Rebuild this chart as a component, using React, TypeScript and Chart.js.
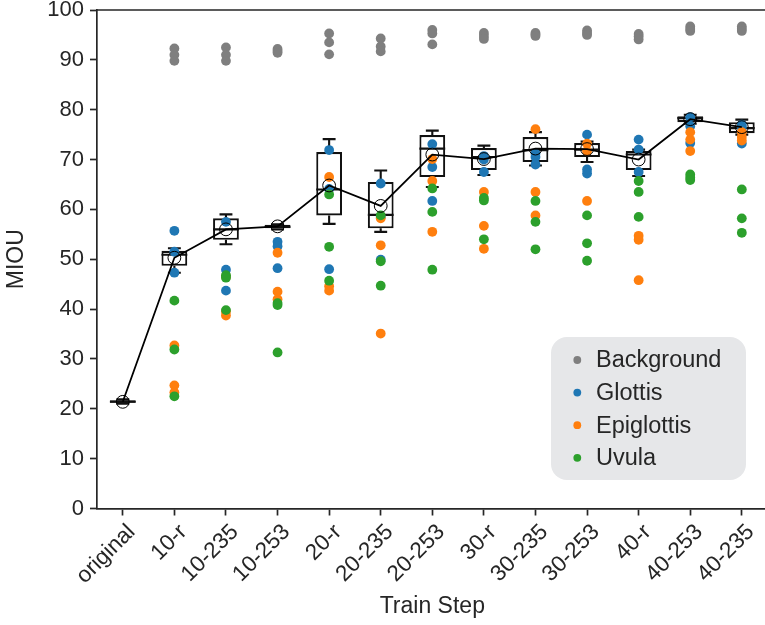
import React, { useEffect, useRef } from 'react';
import { Chart, registerables } from 'chart.js';

Chart.register(...registerables);

const categories = ['original', '10-r', '10-235', '10-253', '20-r', '20-235', '20-253', '30-r', '30-235', '30-253', '40-r', '40-253', '40-235'];

const backgroundPts = [
  [], [92.3, 91.0, 89.8], [92.5, 91.0, 89.8], [92.2, 91.8, 91.4], [95.3, 93.5, 91.1], [94.3, 92.7, 91.7],
  [96.0, 95.3, 93.1], [95.4, 94.8, 94.2], [95.4, 95.1, 94.8], [95.9, 95.4, 95.0], [95.2, 94.7, 94.1],
  [96.7, 96.2, 95.8], [96.7, 96.2, 95.8],
];
const glottisPts = [
  [], [55.7, 51.5, 47.3], [57.5, 47.9, 43.7], [53.5, 52.6, 48.2], [71.9, 64.1, 48.0], [65.2, 58.5, 49.9],
  [73.1, 68.5, 61.7], [70.7, 70.0, 67.5], [71.2, 70.5, 69.0], [75.0, 68.0, 67.2], [74.0, 72.0, 67.5],
  [78.5, 76.7, 73.3], [77.0, 76.5, 73.2],
];
const epiglottisPts = [
  [], [32.7, 24.7, 23.3], [46.5, 39.5, 38.7], [51.3, 43.5, 42.0], [66.5, 44.6, 43.7], [58.2, 52.8, 35.1],
  [70.1, 65.7, 55.5], [63.5, 56.7, 52.1], [76.1, 63.5, 58.8], [73.2, 71.7, 61.7], [54.7, 53.9, 45.8],
  [75.5, 74.0, 71.7], [75.5, 74.5, 73.8],
];
const uvulaPts = [
  [], [41.7, 31.9, 22.5], [46.8, 46.3, 39.8], [41.2, 40.8, 31.3], [63.0, 52.5, 45.7], [58.8, 49.6, 44.7],
  [64.2, 59.5, 47.9], [62.3, 61.8, 54.0], [61.7, 57.5, 52.0], [58.8, 53.2, 49.7], [65.7, 63.5, 58.5],
  [67.0, 66.4, 65.9], [64.0, 58.2, 55.3],
];

const boxMin = [21.0, 47.3, 53.0, 56.0, 57.1, 55.5, 64.5, 66.9, 68.8, 69.5, 66.7, 77.2, 75.0];
const boxQ1 = [21.2, 48.7, 53.9, 56.2, 58.8, 56.2, 66.5, 67.9, 69.5, 70.5, 67.9, 77.5, 75.3];
const boxMedian = [21.4, 50.9, 56.0, 56.5, 64.0, 58.9, 72.2, 70.5, 71.9, 72.0, 71.0, 78.3, 76.3];
const boxQ3 = [21.7, 51.7, 58.2, 56.9, 71.5, 65.5, 74.9, 72.3, 74.5, 73.3, 71.7, 78.7, 77.5];
const boxMax = [21.9, 52.2, 59.0, 57.0, 74.1, 67.8, 75.8, 72.8, 75.5, 73.6, 72.0, 79.0, 78.0];
const meanValues = [21.4, 50.3, 56.0, 56.6, 64.8, 60.7, 71.0, 70.1, 72.2, 72.1, 70.0, 78.1, 76.5];

const yTickValues = [0, 10, 20, 30, 40, 50, 60, 70, 80, 90, 100];

const classNames = ['Background', 'Glottis', 'Epiglottis', 'Uvula'];
const classColors = ['#7f7f7f', '#1f77b4', '#ff7f0e', '#2ca02c'];
const classPoints = [backgroundPts, glottisPts, epiglottisPts, uvulaPts];

const FONT = '"Liberation Sans", Arial, sans-serif';
const TEXT = '#262626';
const AXIS = '#262626';
const TICK_FONT = 22;
const XTICK_FONT = 22.5;

const boxPlugin = {
  id: 'boxWhiskers',
  afterDatasetDraw(chart: any, args: any) {
    if (args.index !== 0) return;
    const ctx = chart.ctx;
    const xs = chart.scales.x;
    const ys = chart.scales.y;
    const meta = chart.getDatasetMeta(0);
    ctx.save();
    ctx.strokeStyle = '#111111';
    ctx.lineWidth = 2.1;
    categories.forEach((_c, i) => {
      const x = xs.getPixelForValue(i);
      const bw = meta.data[i].width;
      const cap = bw / 4;
      const yMin = ys.getPixelForValue(boxMin[i]);
      const yMax = ys.getPixelForValue(boxMax[i]);
      const yQ1 = ys.getPixelForValue(boxQ1[i]);
      const yQ3 = ys.getPixelForValue(boxQ3[i]);
      const yMed = ys.getPixelForValue(boxMedian[i]);
      ctx.beginPath();
      ctx.moveTo(x, yQ3); ctx.lineTo(x, yMax);
      ctx.moveTo(x - cap, yMax); ctx.lineTo(x + cap, yMax);
      ctx.moveTo(x, yQ1); ctx.lineTo(x, yMin);
      ctx.moveTo(x - cap, yMin); ctx.lineTo(x + cap, yMin);
      ctx.moveTo(x - bw / 2, yMed); ctx.lineTo(x + bw / 2, yMed);
      ctx.stroke();
    });
    ctx.restore();
  },
};

const decorPlugin = {
  id: 'decor',
  afterDraw(chart: any) {
    const ctx = chart.ctx;
    const area = chart.chartArea;
    const xs = chart.scales.x;
    ctx.save();
    // top and right spines
    ctx.strokeStyle = AXIS;
    ctx.lineWidth = 1.7;
    ctx.beginPath();
    ctx.moveTo(area.left, area.top);
    ctx.lineTo(area.right, area.top);
    ctx.lineTo(area.right, area.bottom);
    ctx.stroke();

    // rotated x tick labels, right end anchored at the tick (rotation_mode anchor)
    ctx.font = `${XTICK_FONT}px ${FONT}`;
    ctx.fillStyle = TEXT;
    const top = area.bottom + 7 + 5;
    categories.forEach((lab, i) => {
      const x = xs.getPixelForValue(i);
      ctx.save();
      ctx.translate(x + 1, top);
      ctx.rotate(-Math.PI / 4);
      ctx.textAlign = 'right';
      ctx.textBaseline = 'top';
      ctx.fillText(lab, 0, 0);
      ctx.restore();
    });

    // legend
    const lx = 551, ly = 337, lw = 195, lh = 143, r = 16;
    ctx.fillStyle = '#e6e7e9';
    ctx.beginPath();
    ctx.moveTo(lx + r, ly);
    ctx.arcTo(lx + lw, ly, lx + lw, ly + lh, r);
    ctx.arcTo(lx + lw, ly + lh, lx, ly + lh, r);
    ctx.arcTo(lx, ly + lh, lx, ly, r);
    ctx.arcTo(lx, ly, lx + lw, ly, r);
    ctx.closePath();
    ctx.fill();
    ctx.font = `23.5px ${FONT}`;
    ctx.textBaseline = 'middle';
    ctx.textAlign = 'left';
    classNames.forEach((name, k) => {
      const cy = 360 + k * 32.6;
      ctx.fillStyle = classColors[k];
      ctx.beginPath();
      ctx.arc(577.3, cy, 3.9, 0, Math.PI * 2);
      ctx.fill();
      ctx.fillStyle = TEXT;
      ctx.fillText(name, 596, cy + 1);
    });
    ctx.restore();
  },
};

export default function App() {
  const canvasRef = useRef<HTMLCanvasElement | null>(null);

  useEffect(() => {
    document.documentElement.style.overflow = 'hidden';
    document.body.style.overflow = 'hidden';
    const canvas = canvasRef.current;
    if (!canvas) return;

    const pointSets = classPoints.map((set, k) => ({
      type: 'line' as const,
      label: classNames[k],
      data: set.flatMap((vals, i) => vals.map((v) => ({ x: categories[i], y: v }))),
      showLine: false,
      pointRadius: 4.9,
      pointHoverRadius: 4.9,
      pointBorderWidth: 0,
      pointBackgroundColor: classColors[k],
      backgroundColor: classColors[k],
      borderColor: classColors[k],
      order: 4 - k,
    }));

    const chart = new Chart(canvas, {
      type: 'line',
      data: {
        labels: categories,
        datasets: [
          {
            type: 'bar',
            label: 'box',
            data: categories.map((_c, i) => [boxQ1[i], boxQ3[i]]),
            backgroundColor: '#ffffff',
            borderColor: '#111111',
            borderWidth: 2.1,
            borderSkipped: false,
            categoryPercentage: 0.5,
            barPercentage: 1.0,
            order: 10,
          } as any,
          ...pointSets,
          {
            type: 'line',
            label: 'mean',
            data: meanValues,
            borderColor: '#000000',
            borderWidth: 1.8,
            pointRadius: 6.4,
            pointHoverRadius: 6.4,
            pointBorderWidth: 1,
            pointBorderColor: '#000000',
            pointBackgroundColor: 'rgba(0,0,0,0)',
            fill: false,
            tension: 0,
            order: 0,
          },
        ],
      },
      options: {
        responsive: false,
        maintainAspectRatio: false,
        animation: false,
        events: [],
        layout: { padding: { top: 10, right: 5, left: 0, bottom: 0 } },
        plugins: {
          legend: { display: false },
          tooltip: { enabled: false },
        },
        scales: {
          x: {
            type: 'category',
            offset: true,
            grid: {
              offset: false,
              drawOnChartArea: false,
              drawTicks: true,
              tickLength: 7,
              tickWidth: 1.7,
              tickColor: AXIS,
            },
            border: { display: true, color: AXIS, width: 1.7 },
            ticks: { display: false, autoSkip: false },
            title: {
              display: true,
              text: 'Train Step',
              color: TEXT,
              font: { family: FONT, size: 23 },
              padding: { top: 0, bottom: 4.7 },
            },
            afterFit: (scale: any) => {
              scale.height = 116.5;
              scale.paddingLeft = 0;
              scale.paddingRight = 0;
            },
          },
          y: {
            type: 'linear',
            min: 0,
            max: 100,
            grid: {
              drawOnChartArea: false,
              drawTicks: true,
              tickLength: 7,
              tickWidth: 1.7,
              tickColor: AXIS,
            },
            border: { display: true, color: AXIS, width: 1.7 },
            afterBuildTicks: (scale: any) => {
              scale.ticks = yTickValues.map((v) => ({ value: v }));
            },
            ticks: {
              color: TEXT,
              font: { family: FONT, size: TICK_FONT },
              padding: 6,
              callback: (v: any) => String(v),
            },
            title: {
              display: true,
              text: 'MIOU',
              color: TEXT,
              font: { family: FONT, size: 23 },
              padding: { top: 3, bottom: 0 },
            },
            afterFit: (scale: any) => {
              scale.width = 97;
              scale.paddingTop = 0;
              scale.paddingBottom = 0;
            },
          },
        },
      },
      plugins: [boxPlugin, decorPlugin],
    } as any);

    return () => {
      chart.destroy();
    };
  }, []);

  return (
    <div style={{ position: 'absolute', left: 0, top: 0, width: 775, height: 625 }}>
      <canvas ref={canvasRef} width={775} height={625} style={{ display: 'block' }} />
    </div>
  );
}
